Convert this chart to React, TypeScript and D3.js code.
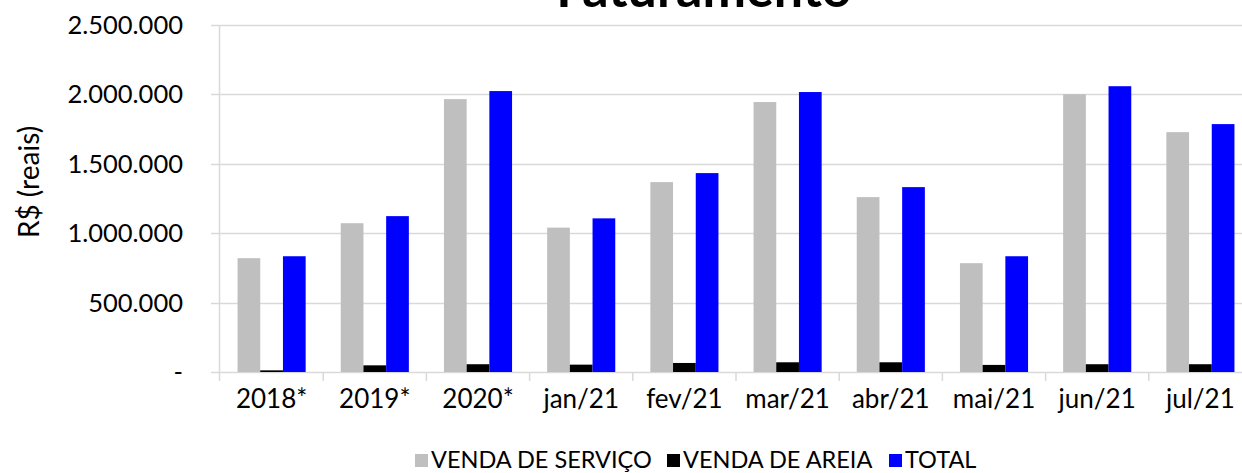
import React, { useEffect, useRef } from 'react';
import * as d3 from 'd3';

const categories = ['2018*', '2019*', '2020*', 'jan/21', 'fev/21', 'mar/21', 'abr/21', 'mai/21', 'jun/21', 'jul/21'];
const vendaServico = [820000, 1072000, 1966000, 1040000, 1368000, 1945000, 1260000, 784000, 2001000, 1728000];
const vendaAreia = [12000, 48000, 56000, 53000, 65000, 70000, 70000, 51000, 56000, 56000];
const total = [834000, 1123000, 2024000, 1107000, 1433000, 2017000, 1332000, 834000, 2059000, 1786000];
const seriesNames = ['VENDA DE SERVIÇO', 'VENDA DE AREIA', 'TOTAL'];
const seriesColors = ['#bfbfbf', '#000000', '#0000ff'];
const yTicks = [0, 500000, 1000000, 1500000, 2000000, 2500000];

const FONT = 'Lato, "Noto Sans", sans-serif';

const App = () => {
  const svgRef = useRef<SVGSVGElement>(null);

  useEffect(() => {
    const width = 1242;
    const height = 473;
    // plot area runs a little past the right edge, like the cropped original
    const margin = { top: 25, right: -10, bottom: 101, left: 220 };

    const svg = d3.select(svgRef.current);
    svg.selectAll('*').remove();
    svg.attr('width', width).attr('height', height).style('background', '#fff');

    const locale = d3.formatLocale({ decimal: ',', thousands: '.', grouping: [3], currency: ['R$', ''] });
    const fmt = locale.format(',.0f');

    const x = d3.scaleBand<string>()
      .domain(categories)
      .range([margin.left, width - margin.right]);

    const y = d3.scaleLinear()
      .domain([0, 2500000])
      .range([height - margin.bottom, margin.top]);

    const data = [vendaServico, vendaAreia, total];
    const groupPad = 0.17;
    const xs = d3.scaleBand<number>()
      .domain([0, 1, 2])
      .range([x.bandwidth() * groupPad, x.bandwidth() * (1 - groupPad)]);

    // gridlines
    svg.append('g')
      .selectAll('line')
      .data(yTicks)
      .join('line')
      .attr('x1', margin.left - 9)
      .attr('x2', width - margin.right)
      .attr('y1', d => Math.round(y(d)) + 0.5)
      .attr('y2', d => Math.round(y(d)) + 0.5)
      .attr('stroke', '#d9d9d9')
      .attr('stroke-width', 1.5);

    // left axis line
    svg.append('line')
      .attr('x1', margin.left - 0.5)
      .attr('x2', margin.left - 0.5)
      .attr('y1', margin.top)
      .attr('y2', y(0) + 9)
      .attr('stroke', '#d9d9d9')
      .attr('stroke-width', 1.5);

    // category ticks
    svg.append('g')
      .selectAll('line')
      .data(categories)
      .join('line')
      .attr('x1', d => (x(d) as number) + x.bandwidth())
      .attr('x2', d => (x(d) as number) + x.bandwidth())
      .attr('y1', y(0))
      .attr('y2', y(0) + 9)
      .attr('stroke', '#d9d9d9')
      .attr('stroke-width', 1.5);

    // bars
    data.forEach((vals, si) => {
      svg.append('g')
        .selectAll('rect')
        .data(vals)
        .join('rect')
        .attr('x', (d, i) => (x(categories[i]) as number) + (xs(si) as number))
        .attr('y', d => y(d))
        .attr('width', xs.bandwidth())
        .attr('height', d => y(0) - y(d))
        .attr('fill', seriesColors[si]);
    });

    // y labels
    svg.append('g')
      .selectAll('text')
      .data(yTicks)
      .join('text')
      .attr('x', 183)
      .attr('y', d => y(d))
      .attr('dy', '0.35em')
      .attr('text-anchor', 'end')
      .style('font-family', FONT)
      .style('font-size', '25.5px')
      .attr('fill', '#000')
      .text(d => (d === 0 ? '-' : fmt(d)));

    // x labels
    svg.append('g')
      .selectAll('text')
      .data(categories)
      .join('text')
      .attr('x', d => (x(d) as number) + x.bandwidth() / 2)
      .attr('y', 399)
      .attr('dy', '0.35em')
      .attr('text-anchor', 'middle')
      .style('font-family', FONT)
      .style('font-size', '26px')
      .attr('fill', '#000')
      .text(d => d);

    // y title
    svg.append('text')
      .attr('transform', `translate(29,182) rotate(-90)`)
      .attr('text-anchor', 'middle')
      .attr('dy', '0.35em')
      .style('font-family', FONT)
      .style('font-size', '28px')
      .attr('fill', '#000')
      .text('R$ (reais)');

    // chart title (cut off at the top)
    svg.append('text')
      .attr('x', 704)
      .attr('y', 7)
      .attr('text-anchor', 'middle')
      .style('font-family', FONT)
      .style('font-size', '52px')
      .style('font-weight', 'bold')
      .attr('fill', '#000')
      .text('Faturamento');

    // legend
    const legendX = [415, 667, 889];
    const lg = svg.append('g');
    seriesNames.forEach((name, i) => {
      lg.append('rect')
        .attr('x', legendX[i])
        .attr('y', 454)
        .attr('width', 13)
        .attr('height', 13)
        .attr('fill', seriesColors[i]);
      lg.append('text')
        .attr('x', legendX[i] + 16)
        .attr('y', 468)
        .style('font-family', FONT)
        .style('font-size', '23.5px')
        .attr('fill', '#000')
        .text(name);
    });
  }, []);

  return (
    <div style={{ position: 'absolute', top: 0, left: 0 }}>
      <svg ref={svgRef}></svg>
    </div>
  );
};

export default App;
